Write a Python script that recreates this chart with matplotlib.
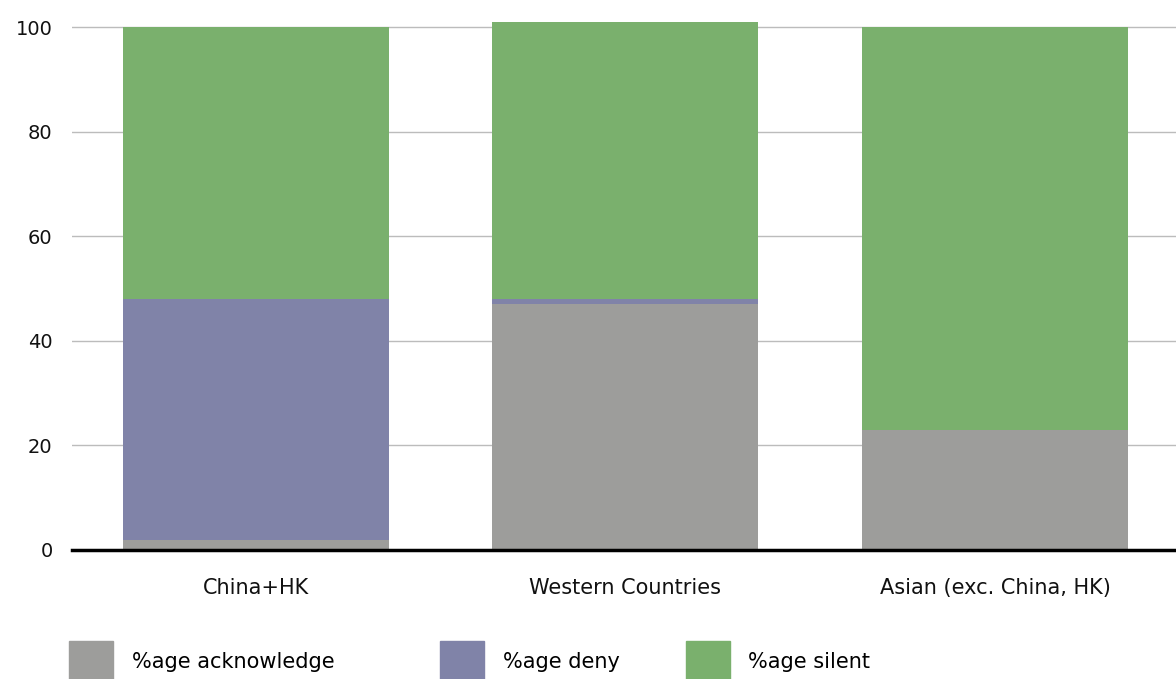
import matplotlib
matplotlib.use("Agg")
import matplotlib.pyplot as plt
from matplotlib.patches import Patch
import numpy as np

categories = ["China+HK", "Western Countries", "Asian (exc. China, HK)"]
acknowledge = [2, 47, 23]
deny = [46, 1, 0]
silent = [52, 53, 77]
series_names = ["%age acknowledge", "%age deny", "%age silent"]
colors = ["#9d9d9b", "#8083a8", "#7ab06d"]
yticks = [0, 20, 40, 60, 80, 100]

plt.rcParams['font.family'] = ['DejaVu Sans']
fig = plt.figure(figsize=(11.76, 6.79), dpi=100)
ax = fig.add_axes([72/1176, 0.19, 1 - 72/1176, 0.8003])

x = np.arange(len(categories))
w = 0.72
ack = np.array(acknowledge, float)
dn = np.array(deny, float)
sl = np.array(silent, float)
ax.bar(x, ack, w, color=colors[0], zorder=2)
ax.bar(x, dn, w, bottom=ack, color=colors[1], zorder=2)
ax.bar(x, sl, w, bottom=ack + dn, color=colors[2], zorder=2)

ax.set_xlim(-0.498, 2.49)
ax.set_ylim(0, 104)
ax.set_yticks(yticks)
ax.set_xticks(x)
ax.set_xticklabels(categories, fontsize=15, color="#111111")
ax.tick_params(axis='y', length=0, pad=14, labelsize=14, labelcolor="#111111")
ax.tick_params(axis='x', length=0, pad=20)
ax.grid(axis='y', color="#bcbcbc", linewidth=1.0, zorder=0)
for s in ["top", "right", "left"]:
    ax.spines[s].set_visible(False)
ax.spines["bottom"].set_color("black")
ax.spines["bottom"].set_linewidth(2.5)
ax.spines["bottom"].set_zorder(3)

lefts = [69, 440, 686]
for name, c, lx in zip(series_names, colors, lefts):
    fig.legend(handles=[Patch(color=c)], labels=[name], loc='upper left',
               bbox_to_anchor=(lx/1176, 1 - 641/679), frameon=False,
               borderpad=0, borderaxespad=0, fontsize=15,
               handlelength=2.1, handleheight=2.7, handletextpad=0.9)

fig.savefig("out.png", dpi=100)
